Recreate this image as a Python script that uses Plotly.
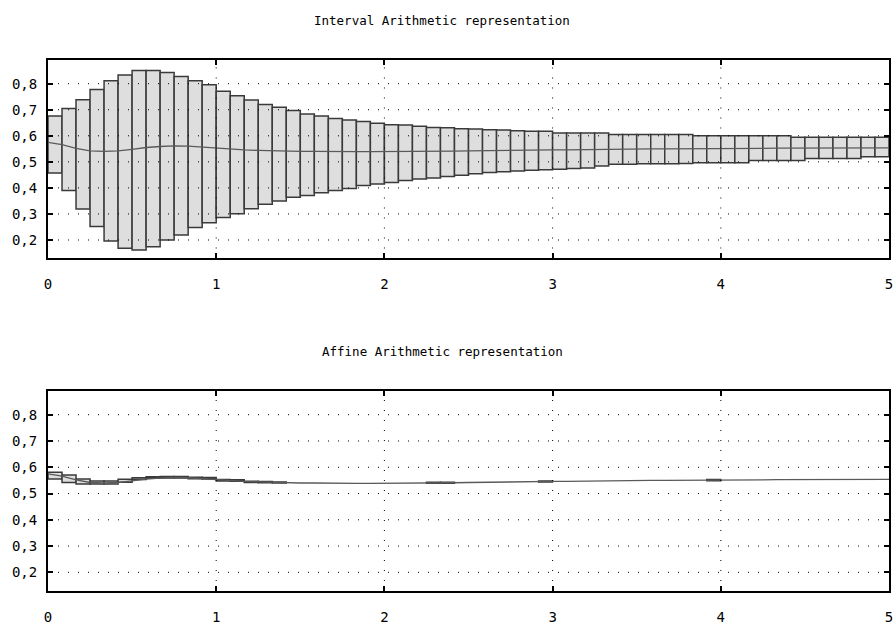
import plotly.graph_objects as go

# ---------------- data ----------------
n_boxes = 60
t_end = 5.0

interval_upper = [0.676, 0.705, 0.738, 0.778, 0.811, 0.833, 0.851, 0.851, 0.843, 0.828,
                  0.811, 0.796, 0.771, 0.754, 0.737, 0.720, 0.710, 0.697, 0.684, 0.676,
                  0.666, 0.661, 0.655, 0.648, 0.642, 0.641, 0.637, 0.632, 0.631, 0.627,
                  0.626, 0.623, 0.622, 0.619, 0.617, 0.617, 0.611, 0.611, 0.611, 0.611,
                  0.605, 0.605, 0.605, 0.605, 0.605, 0.605, 0.600, 0.600, 0.600, 0.600,
                  0.600, 0.600, 0.600, 0.594, 0.594, 0.594, 0.594, 0.594, 0.594, 0.594]
interval_lower = [0.457, 0.390, 0.319, 0.252, 0.196, 0.168, 0.162, 0.174, 0.200, 0.219,
                  0.248, 0.266, 0.286, 0.301, 0.320, 0.337, 0.350, 0.364, 0.371, 0.381,
                  0.390, 0.398, 0.409, 0.415, 0.421, 0.428, 0.434, 0.438, 0.444, 0.449,
                  0.454, 0.459, 0.462, 0.465, 0.468, 0.470, 0.472, 0.474, 0.476, 0.484,
                  0.491, 0.491, 0.493, 0.493, 0.493, 0.494, 0.497, 0.497, 0.497, 0.497,
                  0.505, 0.505, 0.505, 0.505, 0.513, 0.513, 0.513, 0.513, 0.520, 0.520]

affine_upper = [0.581, 0.571, 0.555, 0.548, 0.548, 0.554, 0.560, 0.564, 0.565, 0.565,
                0.562, 0.561, 0.553, 0.552, 0.547, 0.546, 0.544, None, None, None,
                None, None, None, None, None, None, None, 0.543, 0.543, None,
                None, None, None, None, None, 0.548, None, None, None, None,
                None, None, None, None, None, None, None, 0.553, None, None,
                None, None, None, None, None, None, None, None, None, None]
affine_lower = [0.555, 0.542, 0.536, 0.536, 0.536, 0.543, 0.553, 0.558, 0.559, 0.559,
                0.556, 0.555, 0.548, 0.547, 0.542, 0.541, 0.540, None, None, None,
                None, None, None, None, None, None, None, 0.539, 0.539, None,
                None, None, None, None, None, 0.544, None, None, None, None,
                None, None, None, None, None, None, None, 0.549, None, None,
                None, None, None, None, None, None, None, None, None, None]

# reference solution sampled at the box edges (61 points)
solution = [0.575, 0.566, 0.552, 0.542, 0.540, 0.542, 0.548, 0.555, 0.559, 0.561,
            0.560, 0.556, 0.552, 0.548, 0.546, 0.544, 0.542, 0.541, 0.540, 0.540,
            0.539, 0.539, 0.539, 0.539, 0.539, 0.539, 0.540, 0.540, 0.541, 0.541,
            0.542, 0.543, 0.543, 0.544, 0.545, 0.545, 0.546, 0.546, 0.547, 0.547,
            0.548, 0.549, 0.549, 0.550, 0.550, 0.550, 0.551, 0.551, 0.551, 0.552,
            0.552, 0.552, 0.553, 0.553, 0.553, 0.553, 0.554, 0.554, 0.554, 0.554,
            0.554]

x_ticks = [0, 1, 2, 3, 4, 5]
x_ticktext = ["0", "1", "2", "3", "4", "5"]
y_ticks = [0.2, 0.3, 0.4, 0.5, 0.6, 0.7, 0.8]
y_ticktext = ["0,2", "0,3", "0,4", "0,5", "0,6", "0,7", "0,8"]
x_grid = [1, 2, 3, 4]

titles = ["Interval Arithmetic representation", "Affine Arithmetic representation"]

# ---------------- derived ----------------
dt = t_end / n_boxes
centers = [(k + 0.5) * dt for k in range(n_boxes)]
edges = [k * dt for k in range(n_boxes + 1)]


def heights(lo, hi):
    return [None if (a is None or b is None) else b - a for a, b in zip(lo, hi)]


FILL = "#dedede"
EDGE = "#3a3a3a"
LINE = "#5a5a5a"
MONO = "DejaVu Sans Mono"

fig = go.Figure()

fig.add_trace(go.Bar(x=centers, y=heights(interval_lower, interval_upper), base=interval_lower,
                     width=dt, marker=dict(color=FILL, line=dict(color=EDGE, width=1.5)),
                     xaxis="x", yaxis="y", showlegend=False))
fig.add_trace(go.Scatter(x=edges, y=solution, mode="lines", line=dict(color=LINE, width=1.3),
                         xaxis="x", yaxis="y", showlegend=False))

fig.add_trace(go.Bar(x=centers, y=heights(affine_lower, affine_upper), base=affine_lower,
                     width=dt, marker=dict(color=FILL, line=dict(color=EDGE, width=1.5)),
                     xaxis="x2", yaxis="y2", showlegend=False))
fig.add_trace(go.Scatter(x=edges, y=solution, mode="lines", line=dict(color=LINE, width=1.3),
                         xaxis="x2", yaxis="y2", showlegend=False))

yr = [0.129, 0.891]

common_x = dict(range=[0, t_end], tickmode="array", tickvals=x_ticks, ticktext=x_ticktext,
                ticks="inside", ticklen=5, tickwidth=2, tickcolor="black",
                showline=True, linewidth=2, linecolor="black", mirror="ticks",
                showgrid=False, zeroline=False, ticklabelstandoff=12,
                tickfont=dict(family=MONO, size=14, color="black"), fixedrange=True)
common_y = dict(range=yr, tickmode="array", tickvals=y_ticks, ticktext=y_ticktext,
                ticks="inside", ticklen=5, tickwidth=2, tickcolor="black",
                showline=True, linewidth=2, linecolor="black", mirror="ticks",
                showgrid=False, zeroline=False, ticklabelstandoff=6,
                tickfont=dict(family=MONO, size=14, color="black"), fixedrange=True)

fig.update_layout(
    width=896, height=628,
    margin=dict(l=48, r=3, t=60, b=33),
    paper_bgcolor="white", plot_bgcolor="white",
    barmode="overlay",
    xaxis=dict(domain=[0, 1], anchor="y", **common_x),
    yaxis=dict(domain=[0.6262, 1], anchor="x", **common_y),
    xaxis2=dict(domain=[0, 1], anchor="y2", **common_x),
    yaxis2=dict(domain=[0, 0.377], anchor="x2", **common_y),
    hovermode=False,
)

# dotted grid drawn above the boxes, as in the original
shapes = []
for xr, yrf in (("x", "y"), ("x2", "y2")):
    for v in y_ticks:
        shapes.append(dict(type="line", xref=f"{xr} domain", yref=yrf, x0=0, x1=1, y0=v, y1=v,
                           layer="above", line=dict(color="black", width=1, dash="1px,9px")))
    for v in x_grid:
        shapes.append(dict(type="line", xref=xr, yref=f"{yrf} domain", x0=v, x1=v, y0=0, y1=1,
                           layer="above", line=dict(color="black", width=1, dash="1px,9px")))
fig.update_layout(shapes=shapes)

fig.update_layout(annotations=[
    dict(text=titles[0], xref="paper", yref="paper", x=0.4686, y=1.0748, xanchor="center",
         yanchor="middle", showarrow=False, font=dict(family=MONO, size=12.5, color="black")),
    dict(text=titles[1], xref="paper", yref="paper", x=0.4686, y=0.4505, xanchor="center",
         yanchor="middle", showarrow=False, font=dict(family=MONO, size=12.5, color="black")),
])

fig.write_html("out.html", config={"displayModeBar": False},
               post_script="document.body.style.margin='0';document.body.style.overflow='hidden';")
